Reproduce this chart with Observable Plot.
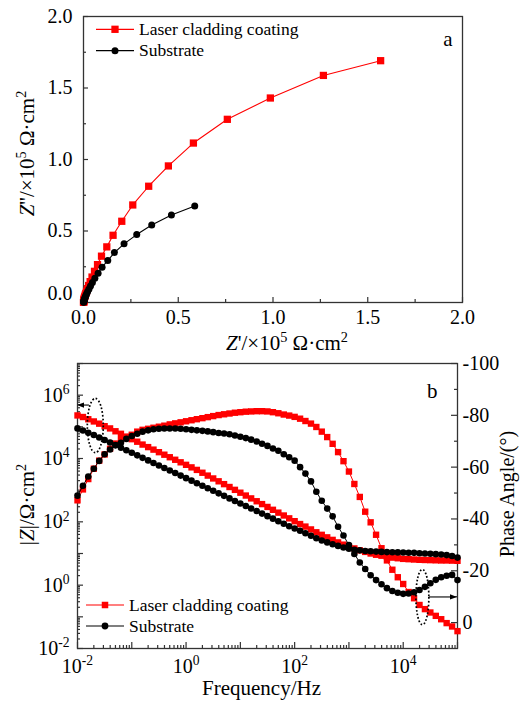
<!DOCTYPE html>
<html><head><meta charset="utf-8">
<script src="https://cdn.jsdelivr.net/npm/d3@7"></script>
<script src="https://cdn.jsdelivr.net/npm/@observablehq/plot@0.6"></script>
<style>
body{margin:0;background:#fff;}
#wrap{position:relative;width:525px;height:704px;overflow:hidden;background:#fff;}
#wrap svg{position:absolute;left:0;}
#wrap svg text{font-family:'Liberation Serif','Times New Roman',serif !important;}
</style></head><body><div id="wrap"></div>
<script>
const FONT = "'Liberation Serif','Times New Roman',serif";
const RED = "#ff0000", BLK = "#000000", AX = "#333333";
const seriesNames = ["Laser cladding coating", "Substrate"];
const seriesColors = [RED, BLK];
const seriesSymbols = ["square", "circle"];

// ---- Panel a: Nyquist (x10^5 ohm cm^2) ----
const nyqCoatRe = [1.568,1.266,0.986,0.759,0.580,0.448,0.344,0.260,0.202,0.156,0.123,0.095,0.074,0.058,0.045,0.035,0.027,0.021,0.016,0.012,0.009,0.007,0.005,0.004,0.003,0.002,0.0015,0.001,0.0007,0.0005,0.0003,0.0002];
const nyqCoatIm = [1.691,1.588,1.430,1.281,1.115,0.955,0.813,0.682,0.568,0.470,0.389,0.324,0.265,0.218,0.178,0.146,0.119,0.097,0.079,0.064,0.052,0.042,0.034,0.027,0.021,0.016,0.012,0.009,0.006,0.004,0.002,0.001];
const nyqSubRe = [0.587,0.464,0.360,0.281,0.214,0.163,0.128,0.098,0.077,0.060,0.047,0.037,0.029,0.022,0.017,0.013,0.010,0.008,0.006,0.0045,0.0035,0.0025,0.002,0.0015,0.001,0.0007];
const nyqSubIm = [0.675,0.612,0.542,0.475,0.410,0.349,0.293,0.247,0.205,0.170,0.140,0.115,0.094,0.077,0.063,0.051,0.041,0.033,0.026,0.020,0.015,0.011,0.008,0.006,0.004,0.002];
const nyqTicks = [0, 0.5, 1.0, 1.5, 2.0];
const nyqMinorTicks = [0.25, 0.75, 1.25, 1.75];

// ---- Panel b: Bode ----
const freq = [0.01,0.0126,0.0158,0.02,0.0251,0.0316,0.0398,0.0501,0.0631,0.0794,
  0.1,0.126,0.158,0.2,0.251,0.316,0.398,0.501,0.631,0.794,
  1,1.26,1.58,2,2.51,3.16,3.98,5.01,6.31,7.94,
  10,12.6,15.8,20,25.1,31.6,39.8,50.1,63.1,79.4,
  100,126,158,200,251,316,398,501,631,794,
  1000,1259,1585,1995,2512,3162,3981,5012,6310,7943,
  10000,12589,15849,19953,25119,31623,39811,50119,63096,79433,100000];
// log10 |Z| (ohm cm^2)
const coatLogModZ = [5.36,5.31,5.24,5.17,5.10,5.02,4.95,4.86,4.78,4.69,
  4.61,4.53,4.44,4.36,4.28,4.20,4.12,4.04,3.96,3.88,
  3.80,3.72,3.64,3.55,3.46,3.37,3.28,3.19,3.10,3.01,
  2.92,2.83,2.74,2.65,2.56,2.47,2.38,2.29,2.20,2.11,
  2.02,1.93,1.85,1.76,1.67,1.59,1.51,1.43,1.35,1.28,
  1.22,1.16,1.10,1.05,1.00,0.96,0.93,0.90,0.87,0.85,
  0.83,0.82,0.81,0.80,0.795,0.79,0.785,0.78,0.78,0.775,0.77];
const subLogModZ = [4.95,4.885,4.81,4.74,4.665,4.586,4.505,4.424,4.34,4.26,
  4.18,4.10,4.02,3.94,3.86,3.78,3.70,3.62,3.54,3.46,
  3.38,3.30,3.22,3.14,3.06,2.98,2.90,2.82,2.74,2.66,
  2.58,2.50,2.42,2.34,2.26,2.18,2.10,2.02,1.94,1.86,
  1.79,1.72,1.64,1.56,1.48,1.41,1.35,1.29,1.24,1.19,
  1.15,1.12,1.10,1.08,1.07,1.06,1.05,1.045,1.04,1.035,
  1.03,1.025,1.02,1.01,1.0,0.99,0.98,0.97,0.95,0.92,0.87];
// phase angle (degrees)
const coatPhase = [-47.2,-51.4,-55.4,-59.4,-62.5,-64.9,-67.1,-69.1,-70.4,-71.6,
  -72.5,-73.7,-74.4,-74.8,-75.2,-75.6,-76.0,-76.5,-76.9,-77.3,
  -77.7,-78.1,-78.5,-78.9,-79.3,-79.7,-80.1,-80.4,-80.7,-81.0,
  -81.2,-81.4,-81.5,-81.6,-81.6,-81.5,-81.2,-80.8,-80.3,-79.9,
  -79.4,-78.7,-77.8,-76.8,-75.5,-73.7,-71.6,-69.0,-65.8,-62.3,
  -58.3,-53.5,-48.5,-42.8,-38.7,-33.9,-28.7,-24.0,-20.4,-17.5,
  -14.9,-11.8,-9.4,-6.8,-5.2,-3.9,-2.6,-1.3,0.2,1.5,3.3];
const subPhase = [-49.0,-52.8,-56.4,-59.4,-62.4,-65.0,-66.8,-68.4,-69.4,-70.9,
  -72.0,-72.9,-73.7,-74.2,-74.6,-74.8,-74.9,-74.9,-74.9,-74.8,
  -74.6,-74.4,-74.2,-74.0,-73.8,-73.5,-73.2,-73.0,-72.7,-72.2,
  -71.7,-71.2,-70.6,-69.9,-69.0,-68.2,-67.2,-66.3,-65.0,-63.8,
  -62.5,-60.0,-57.5,-54.5,-50.5,-47.0,-44.0,-41.0,-37.0,-33.6,
  -29.9,-26.5,-23.2,-20.7,-18.3,-16.4,-14.8,-13.3,-12.2,-11.5,
  -11.1,-11.2,-11.7,-12.6,-13.8,-15.2,-16.5,-17.5,-18.1,-18.4,-16.4];
const freqDomain = [1e-2, 1e5];
const modZDomain = [1e-2, 1e7];
const phaseDomain = [-100, 10];   // top .. bottom of right axis
const freqLabelTicks = [1e-2, 1e0, 1e2, 1e4];
const freqMajorTicks = [1e-2,1e-1,1e0,1e1,1e2,1e3,1e4,1e5];
const modZLabelTicks = [1e-2, 1e0, 1e2, 1e4, 1e6];
const modZMajorTicks = [1e-2,1e-1,1e0,1e1,1e2,1e3,1e4,1e5,1e6,1e7];
const phaseTicks = [-100, -80, -60, -40, -20, 0];
const phaseMinorTicks = [-90, -70, -50, -30, -10];
// annotations: dotted ellipses marking which curve uses which axis
const lowEllipse = {f1: 0.0155, f2: 0.0305, z1: 7.6e5, z2: 1.48e4};
const highEllipse = {f1: 1.75e4, f2: 3.03e4, p1: -20.3, p2: 1.0};
const lowArrow = {f1: 0.0166, f2: 0.01, z: 4.7e5};
const highArrow = {f1: 3.03e4, f2: 1e5, p: -9.7};

// map phase onto the left (log) axis so both share one y scale
const L0 = Math.log10(modZDomain[1]), L1 = Math.log10(modZDomain[0]);
const phaseToY = p => 10 ** (L0 - (p - phaseDomain[0]) / (phaseDomain[1] - phaseDomain[0]) * (L0 - L1));

function minorLog(majors) {
  const out = [];
  for (let i = 0; i < majors.length - 1; i++) for (let k = 2; k <= 9; k++) out.push(majors[i] * k);
  return out;
}

// rich text: ^{..} superscript, *..* italic
function richify(svg) {
  d3.select(svg).selectAll("text").each(function() {
    const t = this.textContent;
    if (!/[\^*]/.test(t) || this.querySelector("tspan")) return;
    const el = d3.select(this);
    el.text(null);
    const re = /\^\{([^}]*)\}|\*([^*]*)\*|([^\^*]+)/g;
    let m, raised = false;
    while ((m = re.exec(t))) {
      if (m[1] != null) {
        el.append("tspan").attr("font-size", "0.68em").attr("dy", "-0.55em").text(m[1]);
        raised = true;
      } else {
        const ts = el.append("tspan").text(m[2] != null ? m[2] : m[3]);
        if (m[2] != null) ts.attr("font-style", "italic");
        if (raised) { ts.attr("dy", "0.374em"); raised = false; }
      }
    }
  });
  d3.select(svg).selectAll("text").style("font-family", FONT);
}

function addLegend(svg, x0, y0, gap, sq, cr) {
  const g = d3.select(svg).append("g").attr("text-anchor", "start");
  seriesNames.forEach((name, i) => {
    const y = y0 + i * gap, c = seriesColors[i], xm = x0 + 19;
    g.append("line").attr("x1", x0).attr("x2", x0 + 38).attr("y1", y).attr("y2", y).attr("stroke", c).attr("stroke-width", 1.2);
    if (seriesSymbols[i] === "square") g.append("rect").attr("x", xm - sq/2).attr("y", y - sq/2).attr("width", sq).attr("height", sq).attr("fill", c);
    else g.append("circle").attr("cx", xm).attr("cy", y).attr("r", cr).attr("fill", c);
    g.append("text").attr("x", x0 + 43).attr("y", y).attr("dy", "0.33em").attr("fill", "#000")
      .attr("text-anchor", "start").style("font-family", FONT).style("font-size", "17.5px").text(name);
  });
}

const W = 525;
const wrap = document.getElementById("wrap");

// ---------- Panel a ----------
{
  const coat = nyqCoatRe.map((x, i) => ({x, y: nyqCoatIm[i]}));
  const sub = nyqSubRe.map((x, i) => ({x, y: nyqSubIm[i]}));
  const mL = 83, mR = 63, mT = 16, mB = 58, H = 360;
  const fw = W - mL - mR, fh = H - mT - mB;
  const fmt = d3.format(".1f");
  const tk = {stroke: AX, strokeWidth: 1.2};
  const svg = Plot.plot({
    width: W, height: H, marginLeft: mL, marginRight: mR, marginTop: mT, marginBottom: mB,
    x: {domain: [0, 2], label: null}, y: {domain: [0, 2], label: null},
    style: {background: "transparent", fontFamily: FONT, fontSize: "20px", color: "#000", overflow: "visible"},
    marks: [
      Plot.tickX(nyqTicks, {x: d => d, insetTop: fh - 5, ...tk}),
      Plot.tickX(nyqMinorTicks, {x: d => d, insetTop: fh - 3, ...tk}),
      Plot.tickY(nyqTicks, {y: d => d, insetRight: fw - 5, ...tk}),
      Plot.tickY(nyqMinorTicks, {y: d => d, insetRight: fw - 3, ...tk}),
      Plot.frame({stroke: AX, strokeWidth: 1.3}),
      Plot.axisX(nyqTicks, {tickSize: 0, tickPadding: 7, tickFormat: fmt, fontSize: 20, label: null}),
      Plot.axisY(nyqTicks.filter(d => d > 0), {tickSize: 0, tickPadding: 11, tickFormat: fmt, fontSize: 20, label: null}),
      Plot.axisY(nyqTicks.filter(d => d === 0), {tickSize: 0, tickPadding: 11, tickFormat: fmt, fontSize: 20, dy: -9, label: null}),
      Plot.line(coat, {x: "x", y: "y", stroke: RED, strokeWidth: 1.1}),
      Plot.dot(coat, {x: "x", y: "y", symbol: "square", fill: RED, r: 4.1}),
      Plot.line(sub, {x: "x", y: "y", stroke: BLK, strokeWidth: 1.1}),
      Plot.dot(sub, {x: "x", y: "y", symbol: "circle", fill: BLK, r: 3.5}),
      Plot.text(["*Z*'/×10^{5} Ω·cm^{2}"], {frameAnchor: "bottom", textAnchor: "middle", text: d => d, dx: 14, dy: 47, fontSize: 21}),
      Plot.text(["*Z*''/×10^{5} Ω·cm^{2}"], {frameAnchor: "left", textAnchor: "middle", text: d => d, rotate: -90, dx: -56, dy: -6, fontSize: 21}),
      Plot.text(["a"], {frameAnchor: "top-right", text: d => d, dx: -10, dy: 15, fontSize: 21})
    ]
  });
  richify(svg);
  addLegend(svg, 96, 29.3, 21.4, 7.3, 3.5);
  svg.style.top = "0px";
  wrap.appendChild(svg);
}

// ---------- Panel b ----------
{
  const top = 340;
  const mL = 77, mR = 68, mT = 23, mB = 56, H = 364;
  const fw = W - mL - mR, fh = H - mT - mB;
  const mk = (logZ, ph) => freq.map((f, i) => ({f, z: 10 ** logZ[i], p: phaseToY(ph[i])}));
  const coat = mk(coatLogModZ, coatPhase);
  const sub = mk(subLogModZ, subPhase);
  const tk = {stroke: AX, strokeWidth: 1.2};
  const logFmt = d => `10^{${Math.round(Math.log10(d))}}`;
  const ellipses = [
    {x1: lowEllipse.f1, x2: lowEllipse.f2, y1: lowEllipse.z1, y2: lowEllipse.z2},
    {x1: highEllipse.f1, x2: highEllipse.f2, y1: phaseToY(highEllipse.p1), y2: phaseToY(highEllipse.p2)}
  ];
  const arrows = [
    {x1: lowArrow.f1, x2: lowArrow.f2, y1: lowArrow.z, y2: lowArrow.z},
    {x1: highArrow.f1, x2: highArrow.f2, y1: phaseToY(highArrow.p), y2: phaseToY(highArrow.p)}
  ];
  const annotationMark = (index, scales) => {
    const g = d3.create("svg:g");
    for (const e of ellipses) {
      const x1 = scales.x(e.x1), x2 = scales.x(e.x2), y1 = scales.y(e.y1), y2 = scales.y(e.y2);
      g.append("ellipse").attr("cx", (x1 + x2) / 2).attr("cy", (y1 + y2) / 2)
        .attr("rx", Math.abs(x2 - x1) / 2).attr("ry", Math.abs(y2 - y1) / 2)
        .attr("fill", "none").attr("stroke", "#000").attr("stroke-width", 1.7).attr("stroke-dasharray", "1.7,2");
    }
    for (const a of arrows) {
      const x1 = scales.x(a.x1), x2 = scales.x(a.x2), y1 = scales.y(a.y1), y2 = scales.y(a.y2);
      const dir = Math.sign(x2 - x1), hl = 7, hw = 2.6;
      g.append("line").attr("x1", x1).attr("y1", y1).attr("x2", x2 - dir * hl).attr("y2", y2)
        .attr("stroke", "#000").attr("stroke-width", 1.1);
      g.append("path").attr("d", `M${x2},${y2}L${x2 - dir * hl},${y2 - hw}L${x2 - dir * hl},${y2 + hw}Z`).attr("fill", "#000");
    }
    return g.node();
  };
  const svg = Plot.plot({
    width: W, height: H, marginLeft: mL, marginRight: mR, marginTop: mT, marginBottom: mB,
    x: {type: "log", domain: freqDomain, label: null},
    y: {type: "log", domain: modZDomain, label: null},
    style: {background: "transparent", fontFamily: FONT, fontSize: "20px", color: "#000", overflow: "visible"},
    marks: [
      Plot.tickX(freqMajorTicks, {x: d => d, insetTop: fh - 6, ...tk}),
      Plot.tickX(minorLog(freqMajorTicks), {x: d => d, insetTop: fh - 3, ...tk}),
      Plot.tickY(modZMajorTicks, {y: d => d, insetRight: fw - 6, ...tk}),
      Plot.tickY(minorLog(modZMajorTicks), {y: d => d, insetRight: fw - 3, ...tk}),
      Plot.tickY(phaseTicks.map(phaseToY), {y: d => d, insetLeft: fw - 6, ...tk}),
      Plot.tickY(phaseMinorTicks.map(phaseToY), {y: d => d, insetLeft: fw - 3, ...tk}),
      Plot.frame({stroke: AX, strokeWidth: 1.3}),
      Plot.axisX(freqLabelTicks, {tickSize: 0, tickPadding: 10, tickFormat: logFmt, fontSize: 20, label: null}),
      Plot.axisY(modZLabelTicks, {anchor: "left", tickSize: 0, tickPadding: 8, tickFormat: logFmt, fontSize: 20, label: null}),
      Plot.text(phaseTicks, {y: d => phaseToY(d), text: d => String(d), frameAnchor: "right", textAnchor: "start", dx: 5, fontSize: 20}),
      Plot.line(coat, {x: "f", y: "z", stroke: RED, strokeWidth: 1}),
      Plot.line(coat, {x: "f", y: "p", stroke: RED, strokeWidth: 1}),
      Plot.dot(coat, {x: "f", y: "z", symbol: "square", fill: RED, r: 3.6}),
      Plot.dot(coat, {x: "f", y: "p", symbol: "square", fill: RED, r: 3.6}),
      Plot.line(sub, {x: "f", y: "z", stroke: BLK, strokeWidth: 1}),
      Plot.line(sub, {x: "f", y: "p", stroke: BLK, strokeWidth: 1}),
      Plot.dot(sub, {x: "f", y: "z", symbol: "circle", fill: BLK, r: 3.3}),
      Plot.dot(sub, {x: "f", y: "p", symbol: "circle", fill: BLK, r: 3.3}),
      annotationMark,
      Plot.text(["Frequency/Hz"], {frameAnchor: "bottom", textAnchor: "middle", text: d => d, dx: -6, dy: 46, fontSize: 21}),
      Plot.text(["|*Z*|/Ω·cm^{2}"], {frameAnchor: "left", textAnchor: "middle", text: d => d, rotate: -90, dx: -50, dy: -1.5, fontSize: 21}),
      Plot.text(["Phase Angle/(°)"], {frameAnchor: "right", textAnchor: "middle", text: d => d, rotate: -90, dx: 50, dy: -12, fontSize: 20}),
      Plot.text(["b"], {frameAnchor: "top-right", text: d => d, dx: -20, dy: 20, fontSize: 21})
    ]
  });
  richify(svg);
  addLegend(svg, 86, 605 - top, 21, 6.5, 3.4);
  svg.style.top = top + "px";
  wrap.appendChild(svg);
}
</script></body></html>
